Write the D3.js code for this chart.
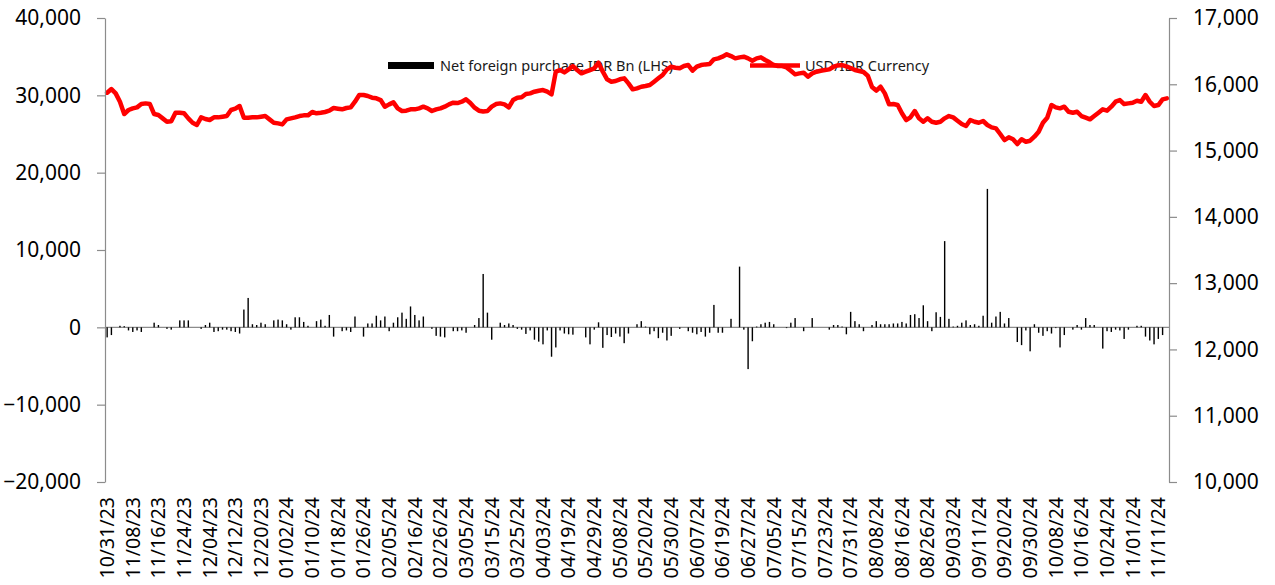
<!DOCTYPE html>
<html>
<head>
<meta charset="utf-8">
<script src="https://cdn.jsdelivr.net/npm/d3@7/dist/d3.min.js"></script>
<style>
	html, body { margin: 0; padding: 0; background: #fff; }
	svg { display: block; font-family: 'Noto Sans', sans-serif; }
</style>
</head>
<body>
<svg id="chart" width="1275" height="585"></svg>
<script>
// x axis labels, one every 6 trading days
var tickLabels = ['10/31/23','11/08/23','11/16/23','11/24/23','12/04/23','12/12/23','12/20/23',
	'01/02/24','01/10/24','01/18/24','01/26/24','02/05/24','02/16/24','02/26/24','03/05/24',
	'03/15/24','03/25/24','04/03/24','04/19/24','04/29/24','05/08/24','05/20/24','05/30/24',
	'06/07/24','06/19/24','06/27/24','07/05/24','07/15/24','07/23/24','07/31/24','08/08/24',
	'08/16/24','08/26/24','09/03/24','09/11/24','09/20/24','09/30/24','10/08/24','10/16/24',
	'10/24/24','11/01/24','11/11/24'];
var labelEvery = 6;

// Net foreign purchase, IDR Bn (left axis)
var netForeign = [
	-1300,-1000,0,200,150,-400,-600,-400,-600,0,
	0,600,300,0,-200,-300,0,900,900,900,
	0,0,-200,300,600,-600,-500,-300,-300,-500,
	-600,-800,2300,3800,400,300,600,400,0,900,
	1000,900,400,-300,1300,1300,700,200,0,800,
	1000,200,1600,-1200,0,-500,-400,-600,1400,0,
	-1200,500,500,1500,900,1400,-500,600,1300,1900,
	1100,2700,1600,900,1400,0,-200,-1100,-1200,-1300,
	0,-500,-500,-400,-700,0,300,1200,6900,1900,
	-1600,0,600,300,500,300,-200,-300,-850,-400,
	-1600,-1850,-2200,-400,-3800,-2600,-400,-800,-900,-950,
	0,0,-1300,-2200,-300,650,-2650,-1000,-1250,-800,
	-1200,-2050,-800,0,400,800,100,-900,-500,-1400,
	-700,-1700,-1100,0,-200,0,-500,-700,-900,-600,
	-1200,-700,2900,-700,-700,0,1100,0,7850,-300,
	-5400,-1800,100,400,600,700,400,0,0,-100,
	600,1200,0,-500,0,1200,0,0,0,-300,
	300,300,100,-900,2000,800,400,-500,0,300,
	800,400,400,400,500,500,700,500,1600,1700,
	1200,2850,800,-500,1950,1350,11150,1100,100,200,
	600,900,300,400,200,1500,17900,600,1400,2000,
	500,1200,0,-1900,-2300,-400,-3100,400,-700,-1100,
	-500,-800,-100,-2600,-1000,0,-300,300,-300,1200,
	300,300,0,-2750,-500,-600,-300,-400,-1500,-300,
	0,200,200,-1200,-1700,-2200,-1500,-1000,0
];

// USD/IDR currency (right axis)
var usdIdr = [
	15873,15928,15863,15737,15551,15612,15637,15652,15702,15712,
	15702,15551,15536,15486,15435,15441,15571,15571,15562,15486,
	15420,15386,15501,15476,15461,15501,15501,15511,15521,15612,
	15632,15672,15496,15496,15501,15501,15511,15521,15471,15420,
	15410,15395,15471,15486,15501,15521,15531,15531,15582,15562,
	15571,15582,15602,15642,15632,15622,15642,15652,15737,15838,
	15838,15823,15798,15788,15762,15662,15697,15727,15637,15597,
	15602,15622,15622,15637,15662,15637,15597,15622,15637,15662,
	15697,15722,15717,15737,15773,15717,15647,15602,15590,15597,
	15662,15702,15712,15697,15652,15762,15798,15803,15853,15863,
	15888,15903,15913,15888,15848,16190,16215,16180,16225,16275,
	16215,16165,16190,16215,16241,16326,16190,16075,16039,16049,
	16075,16090,16014,15924,15939,15963,15974,15989,16039,16090,
	16140,16225,16265,16250,16241,16275,16290,16205,16265,16290,
	16300,16305,16376,16391,16416,16452,16426,16391,16406,16416,
	16391,16356,16391,16406,16366,16331,16290,16275,16275,16255,
	16205,16150,16165,16175,16115,16165,16190,16205,16215,16225,
	16265,16285,16290,16270,16245,16215,16200,16185,16130,15960,
	15905,15963,15863,15697,15702,15687,15562,15461,15501,15597,
	15486,15435,15486,15435,15420,15435,15486,15521,15501,15451,
	15400,15370,15461,15435,15420,15446,15386,15350,15335,15250,
	15159,15200,15170,15099,15170,15134,15149,15209,15285,15420,
	15496,15687,15652,15637,15662,15586,15571,15586,15521,15496,
	15471,15521,15571,15622,15602,15662,15737,15762,15702,15712,
	15722,15752,15737,15838,15737,15672,15687,15773,15788
];

var leftTicks = [-20000, -10000, 0, 10000, 20000, 30000, 40000];
var rightTicks = [10000, 11000, 12000, 13000, 14000, 15000, 16000, 17000];
var seriesNames = ['Net foreign purchase IDR Bn (LHS)', 'USD/IDR Currency'];

(function() {
	'use strict';

	var margin = {top: 18, right: 106, bottom: 103, left: 105};
	var width = 1275 - margin.left - margin.right,
		height = 585 - margin.top - margin.bottom;
	var axisColor = '#8c8c8c';

	var svg = d3.select('#chart');
	var cont = svg.append('g')
		.attr('transform', 'translate(' + margin.left + ',' + margin.top + ')');

	var categories = d3.range(usdIdr.length);

	// Setup scales
	var x = d3.scaleBand()
		.domain(categories)
		.range([0, width])
		.padding(0);

	var yLeft = d3.scaleLinear()
		.domain([-20000, 40000])
		.range([height, 0]);

	var yRight = d3.scaleLinear()
		.domain([10000, 17000])
		.range([height, 0]);

	var fmt = d3.format(',');

	// Legend (drawn below the series, as in the original)
	var legend = cont.append('g');
	legend.append('rect')
		.attr('x', 283).attr('y', 44)
		.attr('width', 46).attr('height', 7)
		.attr('fill', '#000');
	legend.append('text')
		.attr('x', 335).attr('y', 53)
		.attr('font-size', 14.5)
		.attr('fill', '#1a1a1a')
		.text(seriesNames[0]);
	legend.append('line')
		.attr('x1', 645).attr('x2', 695)
		.attr('y1', 47.5).attr('y2', 47.5)
		.attr('stroke', '#ff0000')
		.attr('stroke-width', 4.5);
	legend.append('text')
		.attr('x', 700).attr('y', 53)
		.attr('font-size', 14.5)
		.attr('fill', '#1a1a1a')
		.text(seriesNames[1]);

	// Zero line
	cont.append('line')
		.attr('x1', 0).attr('x2', width)
		.attr('y1', yLeft(0)).attr('y2', yLeft(0))
		.attr('stroke', axisColor)
		.attr('stroke-width', 1.2);

	// Bars
	var barW = 1.4;
	cont.append('g')
		.selectAll('rect')
		.data(netForeign)
		.enter().append('rect')
			.attr('x', function(d, i) { return x(i) + x.bandwidth() / 2 - barW / 2; })
			.attr('y', function(d) { return yLeft(Math.max(0, d)); })
			.attr('width', barW)
			.attr('height', function(d) { return Math.abs(yLeft(d) - yLeft(0)); })
			.attr('fill', '#000');

	// Currency line
	var line = d3.line()
		.x(function(d, i) { return x(i) + x.bandwidth() / 2; })
		.y(function(d) { return yRight(d); });

	cont.append('path')
		.datum(usdIdr)
		.attr('fill', 'none')
		.attr('stroke', '#ff0000')
		.attr('stroke-width', 4.5)
		.attr('stroke-linejoin', 'round')
		.attr('stroke-linecap', 'round')
		.attr('d', line);

	// Axes
	var yAxisL = d3.axisLeft(yLeft)
		.tickValues(leftTicks)
		.tickFormat(fmt)
		.tickSize(8)
		.tickPadding(16)
		.tickSizeOuter(0);

	var yAxisR = d3.axisRight(yRight)
		.tickValues(rightTicks)
		.tickFormat(fmt)
		.tickSize(8)
		.tickPadding(16)
		.tickSizeOuter(0);

	var gl = cont.append('g').call(yAxisL);
	var gr = cont.append('g')
		.attr('transform', 'translate(' + width + ',0)')
		.call(yAxisR);

	[gl, gr].forEach(function(g) {
		g.selectAll('path, line')
			.attr('stroke', axisColor)
			.attr('stroke-width', 1.2);
		g.selectAll('text')
			.attr('font-family', "'Noto Sans', sans-serif")
			.attr('font-size', 21)
			.attr('fill', '#000');
	});

	// Category labels
	var gx = cont.append('g')
		.attr('transform', 'translate(0,' + height + ')');
	gx.selectAll('text')
		.data(tickLabels)
		.enter().append('text')
			.attr('transform', function(d, i) {
				var cx = x(i * labelEvery) + x.bandwidth() / 2;
				return 'translate(' + cx + ',15) rotate(-90)';
			})
			.attr('text-anchor', 'end')
			.attr('dy', '0.35em')
			.attr('font-size', 19.5)
			.attr('fill', '#000')
			.text(function(d) { return d; });
})();
</script>
</body>
</html>
